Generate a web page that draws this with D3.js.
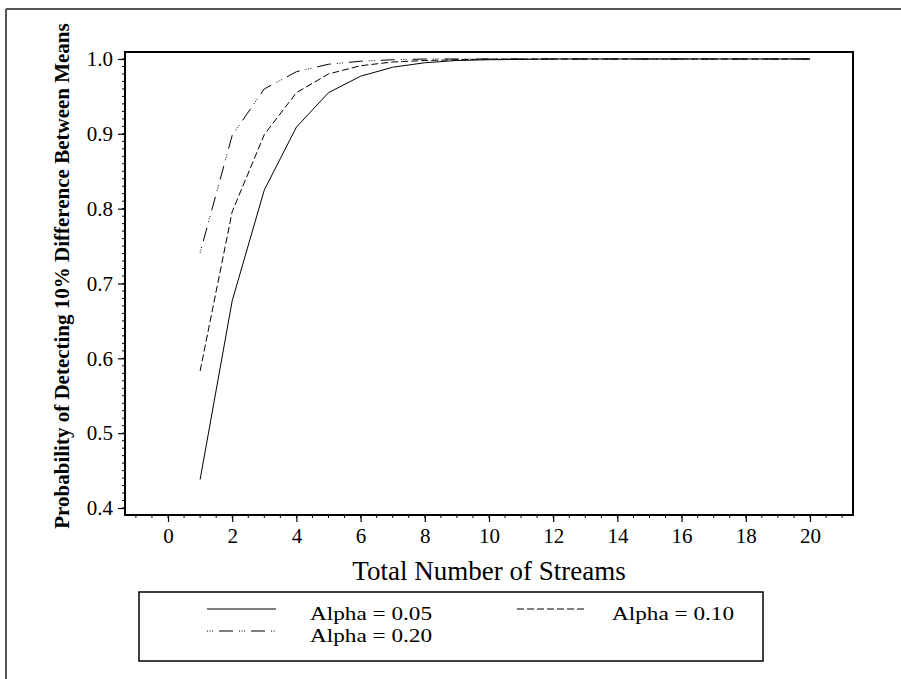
<!DOCTYPE html>
<html><head><meta charset="utf-8">
<script src="https://cdn.jsdelivr.net/npm/d3@7"></script>
<style>body{margin:0;background:#fff}svg{display:block}text{font-family:"Liberation Serif","Times New Roman",serif;fill:#000}</style>
</head><body><svg id="c" width="901" height="679"></svg>
<script>
const streams = [1,2,3,4,5,6,7,8,9,10,11,12,13,14,15,16,17,18,19,20];
const alpha05 = [0.438,0.677,0.825,0.909,0.955,0.977,0.989,0.995,0.998,0.999,0.9995,1,1,1,1,1,1,1,1,1];
const alpha10 = [0.583,0.796,0.899,0.955,0.980,0.991,0.996,0.998,0.999,1,1,1,1,1,1,1,1,1,1,1];
const alpha20 = [0.741,0.898,0.960,0.983,0.993,0.997,0.999,1,1,1,1,1,1,1,1,1,1,1,1,1];
const xTicks = [0,2,4,6,8,10,12,14,16,18,20];
const yTicks = [0.4,0.5,0.6,0.7,0.8,0.9,1.0];
const seriesNames = ["Alpha = 0.05","Alpha = 0.10","Alpha = 0.20"];
const xTitle = "Total Number of Streams";
const yTitle = "Probability of Detecting 10% Difference Between Means";

const svg = d3.select("#c");
const L=125,R=853,T=52,B=515;
const x = d3.scaleLinear().domain([-1.34,21.34]).range([L,R]);
const y = d3.scaleLinear().domain([0.39065,1.00935]).range([B,T]);

// outer frame (partly visible)
svg.append("line").attr("x1",6).attr("x2",901).attr("y1",9).attr("y2",9).attr("stroke","#555").attr("stroke-width",2);
svg.append("line").attr("x1",6).attr("x2",6).attr("y1",9).attr("y2",679).attr("stroke","#555").attr("stroke-width",2);

// minor ticks
const yMinor = d3.range(40,101).map(d=>d/100);
svg.append("g").selectAll("line").data(yMinor).join("line")
  .attr("x1",L-3).attr("x2",L).attr("y1",d=>y(d)).attr("y2",d=>y(d)).attr("stroke","#000").attr("stroke-width",1);
const xMinor = d3.range(-2,43).map(d=>d/2).filter(d=>x(d)>L && x(d)<R);
svg.append("g").selectAll("line").data(xMinor).join("line")
  .attr("x1",d=>x(d)).attr("x2",d=>x(d)).attr("y1",B).attr("y2",B+3).attr("stroke","#000").attr("stroke-width",1);

// axes
const yAxis = svg.append("g").attr("transform",`translate(${L},0)`)
  .call(d3.axisLeft(y).tickValues(yTicks).tickFormat(d3.format(".1f")).tickSize(7).tickPadding(5));
const xAxis = svg.append("g").attr("transform",`translate(0,${B})`)
  .call(d3.axisBottom(x).tickValues(xTicks).tickFormat(d3.format("d")).tickSize(7).tickPadding(6));
[yAxis,xAxis].forEach(g=>{
  g.select(".domain").remove();
  g.selectAll("line").attr("stroke","#000").attr("stroke-width",1.2);
  g.selectAll("text").attr("font-family","Liberation Serif").attr("font-size",21).attr("fill","#000");
});

// frame
svg.append("rect").attr("x",L).attr("y",T).attr("width",R-L).attr("height",B-T)
  .attr("fill","none").attr("stroke","#000").attr("stroke-width",2);

// lines
const dashes = [null,"7,3","1,1.5,1,1.5,1,6,14,6"];
const data = [alpha05,alpha10,alpha20];
const line = d3.line().x((d,i)=>x(streams[i])).y(d=>y(d));
data.forEach((s,k)=>{
  svg.append("path").datum(s).attr("d",line).attr("fill","none").attr("stroke","#000")
    .attr("stroke-width",1).attr("stroke-dasharray",dashes[k]);
});

// titles
svg.append("text").attr("x",(L+R)/2-0).attr("y",580).attr("text-anchor","middle")
  .attr("font-size",27).text(xTitle);
svg.append("text").attr("transform",`translate(69,276) rotate(-90)`).attr("text-anchor","middle")
  .attr("font-size",21).attr("font-weight","bold").text(yTitle);

// legend
svg.append("rect").attr("x",139).attr("y",592).attr("width",624).attr("height",69)
  .attr("fill","none").attr("stroke","#000").attr("stroke-width",1.5);
const leg = [{x1:207,x2:276,ly:609,tx:310,ty:620},{x1:517,x2:585,ly:609,tx:612,ty:620},{x1:207,x2:276,ly:631,tx:310,ty:642}];
leg.forEach((p,k)=>{
  svg.append("line").attr("x1",p.x1).attr("x2",p.x2).attr("y1",p.ly).attr("y2",p.ly)
    .attr("stroke","#000").attr("stroke-width",1).attr("stroke-dasharray",dashes[k]);
  svg.append("text").attr("x",p.tx).attr("y",p.ty).attr("font-size",19)
    .attr("textLength",122).attr("lengthAdjust","spacingAndGlyphs").text(seriesNames[k]);
});
</script></body></html>
